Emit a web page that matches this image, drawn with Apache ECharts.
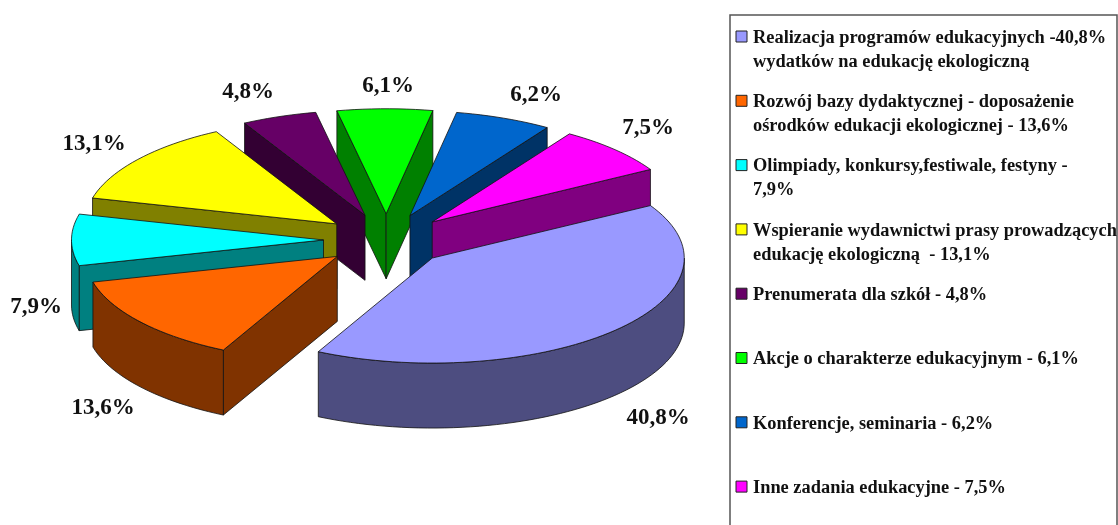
<!DOCTYPE html>
<html>
<head>
<meta charset="utf-8">
<script src="https://cdn.jsdelivr.net/npm/echarts@6/dist/echarts.min.js"></script>
<style>
  html, body { margin: 0; padding: 0; background: #fff; }
  #chart { width: 1118px; height: 525px; }
</style>
</head>
<body>
<div id="chart"></div>
<script>
// udzialy wydatkow, w kolejnosci od lawendowego zgodnie z ruchem wskazowek
const shares = [40.8, 13.6, 7.9, 13.1, 4.8, 6.1, 6.2, 7.5];
const percentLabels = ['40,8%', '13,6%', '7,9%', '13,1%', '4,8%', '6,1%', '6,2%', '7,5%'];
const legendLabels = [
  'Realizacja programów edukacyjnych -40,8%\nwydatków na edukację ekologiczną',
  'Rozwój bazy dydaktycznej - doposażenie\nośrodków edukacji ekologicznej - 13,6%',
  'Olimpiady, konkursy,festiwale, festyny -\n7,9%',
  'Wspieranie wydawnictwi prasy prowadzących\nedukację ekologiczną  - 13,1%',
  'Prenumerata dla szkół - 4,8%',
  'Akcje o charakterze edukacyjnym - 6,1%',
  'Konferencje, seminaria - 6,2%',
  'Inne zadania edukacyjne - 7,5%'
];

const topColors = ['#9999ff', '#ff6600', '#00ffff', '#ffff00', '#660066', '#00ff00', '#0066cc', '#ff00ff'];
const sideColors = ['#4d4d80', '#803300', '#008080', '#808000', '#330033', '#008000', '#003366', '#800080'];

// srodki podpisow procentowych
const labelX = [658, 103, 36, 94, 248, 388, 536, 648];
const labelY = [418, 408, 307, 144, 92, 86, 95, 128];

// geometria pseudo 3D
const cx = 386.5, cy = 240, rx = 252, ry = 105, depth = 65, explode = 0.25;
const startAngle = 30;

const total = shares.reduce((a, b) => a + b, 0);
let running = startAngle;
const slices = shares.map((v, i) => {
  const from = running;
  const to = running - v / total * 360;
  running = to;
  const mid = (from + to) / 2 * Math.PI / 180;
  return {
    index: i,
    from: from,
    to: to,
    x: cx + rx * explode * Math.cos(mid),
    y: cy - ry * explode * Math.sin(mid)
  };
});

// malowanie od tylu do przodu
const drawOrder = slices.slice().sort((a, b) => a.y - b.y).map(s => s.index);

function rimPoint(s, deg, dy) {
  const a = deg * Math.PI / 180;
  return [s.x + rx * Math.cos(a), s.y - ry * Math.sin(a) + dy];
}

function arcPoints(s, from, to, dy) {
  const steps = Math.max(2, Math.ceil(Math.abs(from - to) / 2));
  const pts = [];
  for (let k = 0; k <= steps; k++) {
    pts.push(rimPoint(s, from + (to - from) * k / steps, dy));
  }
  return pts;
}

function face(points, fill) {
  return {
    type: 'polygon',
    shape: { points: points },
    style: { fill: fill, stroke: '#111', lineWidth: 0.8 }
  };
}

function renderSlice(params, api) {
  const s = slices[api.value(0)];
  const side = sideColors[s.index];
  const apex = [s.x, s.y];
  const apexLow = [s.x, s.y + depth];
  const children = [];

  // sciany radialne, tylko te zwrocone do widza
  const wall = deg => face([apex, apexLow, rimPoint(s, deg, depth), rimPoint(s, deg, 0)], side);
  if (Math.cos(s.from * Math.PI / 180) < 0) children.push(wall(s.from));
  if (Math.cos(s.to * Math.PI / 180) > 0) children.push(wall(s.to));

  // sciana zewnetrzna tylko tam gdzie luk jest z przodu (kat -180..0)
  const a = Math.min(s.from, 0);
  const b = Math.max(s.to, -180);
  if (a > b) {
    children.push(face(arcPoints(s, a, b, 0).concat(arcPoints(s, b, a, depth)), side));
  }

  children.push(face([apex].concat(arcPoints(s, s.from, s.to, 0)), topColors[s.index]));
  return { type: 'group', children: children };
}

const legendTop = 36.5, legendStep = 64.3;
const legendGraphics = [
  { type: 'polyline', shape: { points: [[1117, 525], [1117, 15], [730, 15], [730, 525]] }, style: { stroke: '#555', lineWidth: 1.5, fill: null } }
];
legendLabels.forEach((text, i) => {
  const y = legendTop + i * legendStep;
  legendGraphics.push({
    type: 'rect',
    shape: { x: 736, y: y - 5.5, width: 11, height: 11 },
    style: { fill: topColors[i], stroke: '#222', lineWidth: 1 }
  });
  legendGraphics.push({
    type: 'text',
    x: 753,
    y: y - 10.5,
    style: { text: text, fill: '#111', font: 'bold 18.4px "Liberation Serif"', lineHeight: 24 }
  });
});

const chart = echarts.init(document.getElementById('chart'), null, { renderer: 'canvas' });

chart.setOption({
  animation: false,
  backgroundColor: '#fff',
  graphic: legendGraphics,
  series: [
    {
      type: 'custom',
      coordinateSystem: 'none',
      silent: true,
      clip: false,
      renderItem: renderSlice,
      data: drawOrder.map(i => [i, shares[i]]),
      encode: { value: 0 }
    },
    {
      type: 'custom',
      coordinateSystem: 'none',
      silent: true,
      z: 3,
      renderItem: function (params, api) {
        const i = api.value(0);
        return {
          type: 'text',
          x: labelX[i],
          y: labelY[i],
          style: {
            text: percentLabels[i],
            fill: '#111',
            font: 'bold 23px "Liberation Serif"',
            align: 'center',
            verticalAlign: 'middle'
          }
        };
      },
      data: percentLabels.map((t, i) => [i])
    }
  ]
});

window.addEventListener('resize', chart.resize);
</script>
</body>
</html>
